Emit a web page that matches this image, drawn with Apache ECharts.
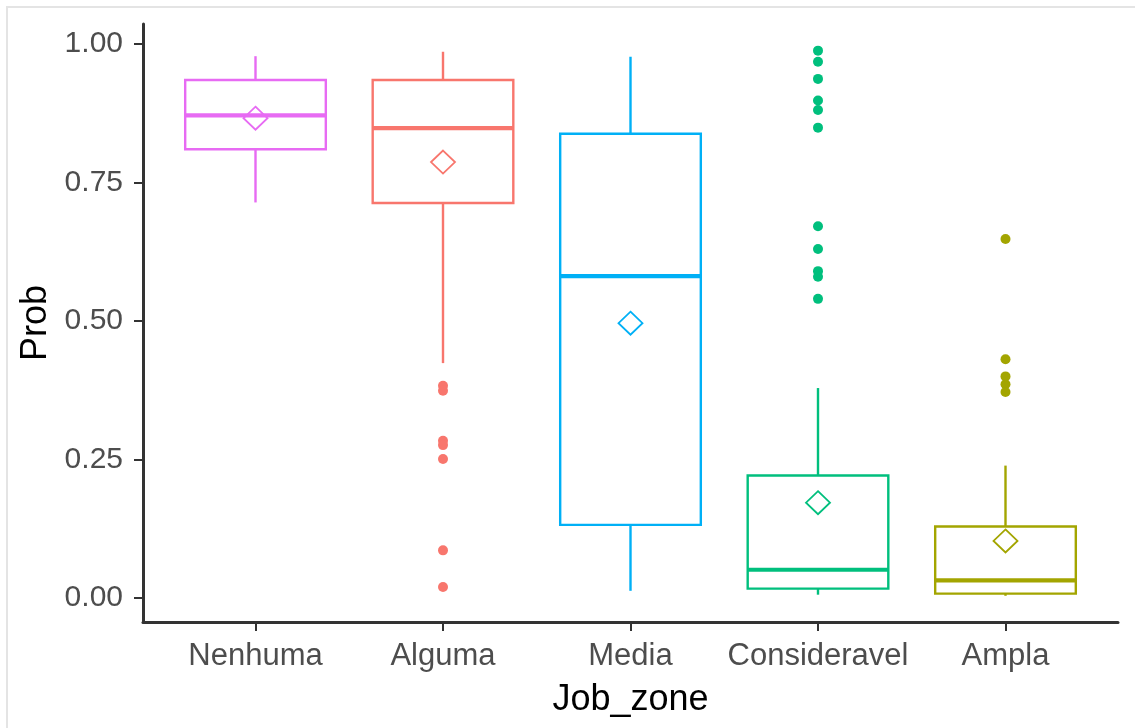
<!DOCTYPE html>
<html>
<head>
<meta charset="utf-8">
<script src="https://cdn.jsdelivr.net/npm/echarts@6/dist/echarts.min.js"></script>
<style>
  html, body { margin: 0; padding: 0; background: #ffffff; }
  #chart { width: 1135px; height: 728px; }
  #frame { position: absolute; left: 6px; top: 6px; right: 0; bottom: 0;
           border-top: 2px solid #e4e4e4; border-left: 2px solid #e4e4e4; pointer-events: none; }
</style>
</head>
<body>
<div id="chart"></div>
<div id="frame"></div>
<script>
// Job zones on the x axis
const categories = ['Nenhuma', 'Alguma', 'Media', 'Consideravel', 'Ampla'];
const colors = ['#E76BF3', '#F8766D', '#00B0F6', '#00BF7D', '#A3A500'];

// Five-number summaries of Prob per job zone
const whiskerLow  = [0.714, 0.424, 0.013, 0.006, 0.004];
const q1          = [0.810, 0.713, 0.132, 0.017, 0.008];
const medians     = [0.871, 0.848, 0.581, 0.051, 0.032];
const q3          = [0.935, 0.935, 0.838, 0.221, 0.129];
const whiskerHigh = [0.978, 0.986, 0.977, 0.379, 0.239];

// Group means (open diamonds)
const means = [0.866, 0.787, 0.496, 0.172, 0.103];

// Outlying points per job zone
const outliersNenhuma = [];
const outliersAlguma = [0.383, 0.374, 0.284, 0.276, 0.251, 0.086, 0.020];
const outliersMedia = [];
const outliersConsideravel = [0.988, 0.968, 0.937, 0.898, 0.881, 0.849, 0.671, 0.630, 0.590, 0.580, 0.540];
const outliersAmpla = [0.648, 0.431, 0.400, 0.386, 0.372];

// Y axis tick labels
const yTicks = [0, 0.25, 0.5, 0.75, 1];

const outlierGroups = [outliersNenhuma, outliersAlguma, outliersMedia, outliersConsideravel, outliersAmpla];
const positions = categories.map((c, i) => i + 1);

const boxData = positions.map((x, i) => [x, whiskerLow[i], q1[i], medians[i], q3[i], whiskerHigh[i]]);
const meanData = positions.map((x, i) => ({ value: [x, means[i]], itemStyle: { borderColor: colors[i] } }));
const outlierData = [];
outlierGroups.forEach((g, i) => g.forEach(v => outlierData.push({ value: [positions[i], v], itemStyle: { color: colors[i] } })));

const BOX_WIDTH = 0.75;

function renderBox(params, api) {
  const i = params.dataIndex;
  const x = api.value(0);
  const col = colors[i];
  const left = api.coord([x - BOX_WIDTH / 2, 0])[0];
  const right = api.coord([x + BOX_WIDTH / 2, 0])[0];
  const cx = api.coord([x, 0])[0];
  const yLow = api.coord([x, api.value(1)])[1];
  const yQ1 = api.coord([x, api.value(2)])[1];
  const yMed = api.coord([x, api.value(3)])[1];
  const yQ3 = api.coord([x, api.value(4)])[1];
  const yHigh = api.coord([x, api.value(5)])[1];
  const lw = 2.4;
  return {
    type: 'group',
    children: [
      { type: 'line', shape: { x1: cx, y1: yQ1, x2: cx, y2: yLow }, style: { stroke: col, lineWidth: lw } },
      { type: 'line', shape: { x1: cx, y1: yQ3, x2: cx, y2: yHigh }, style: { stroke: col, lineWidth: lw } },
      { type: 'rect', shape: { x: left, y: yQ3, width: right - left, height: yQ1 - yQ3 },
        style: { fill: 'rgba(255,255,255,0)', stroke: col, lineWidth: lw } },
      { type: 'line', shape: { x1: left, y1: yMed, x2: right, y2: yMed }, style: { stroke: col, lineWidth: 4.2 } }
    ]
  };
}

const chart = echarts.init(document.getElementById('chart'), null, { renderer: 'canvas' });
const font = '"Liberation Sans", Arial, sans-serif';

chart.setOption({
  backgroundColor: '#ffffff',
  animation: false,
  grid: { left: 143, right: 17, top: 24, bottom: 106, containLabel: false },
  xAxis: {
    type: 'value',
    min: 0.4,
    max: 5.6,
    name: 'Job_zone',
    nameLocation: 'middle',
    nameGap: 60,
    nameTextStyle: { fontFamily: font, fontSize: 36, color: '#000000' },
    axisLine: { show: true, onZero: false, lineStyle: { color: '#333333', width: 3 } },
    axisTick: { show: true, length: 9, customValues: positions, lineStyle: { color: '#333333', width: 2 } },
    axisLabel: {
      customValues: positions,
      formatter: v => categories[Math.round(v) - 1] || '',
      fontFamily: font, fontSize: 31, color: '#4D4D4D', margin: 19
    },
    splitLine: { show: false }
  },
  yAxis: {
    type: 'value',
    min: -0.0433,
    max: 1.0361,
    name: 'Prob',
    nameLocation: 'middle',
    nameRotate: 90,
    nameGap: 86,
    nameTextStyle: { fontFamily: font, fontSize: 36, color: '#000000' },
    axisLine: { show: true, onZero: false, lineStyle: { color: '#333333', width: 3 } },
    axisTick: { show: true, length: 9, customValues: yTicks, lineStyle: { color: '#333333', width: 2 } },
    axisLabel: {
      customValues: yTicks,
      formatter: v => v.toFixed(2),
      fontFamily: font, fontSize: 30, color: '#4D4D4D', margin: 20
    },
    splitLine: { show: false }
  },
  series: [
    {
      type: 'custom',
      name: 'box',
      renderItem: renderBox,
      encode: { x: 0, y: [1, 2, 3, 4, 5] },
      data: boxData,
      z: 2
    },
    {
      type: 'scatter',
      name: 'outliers',
      symbol: 'circle',
      symbolSize: 10,
      itemStyle: { opacity: 1 },
      data: outlierData,
      z: 3
    },
    {
      type: 'scatter',
      name: 'mean',
      symbol: 'diamond',
      symbolSize: [24, 23],
      itemStyle: { color: 'rgba(255,255,255,0)', borderWidth: 1.8, opacity: 1 },
      data: meanData,
      z: 4
    }
  ]
});
</script>
</body>
</html>
